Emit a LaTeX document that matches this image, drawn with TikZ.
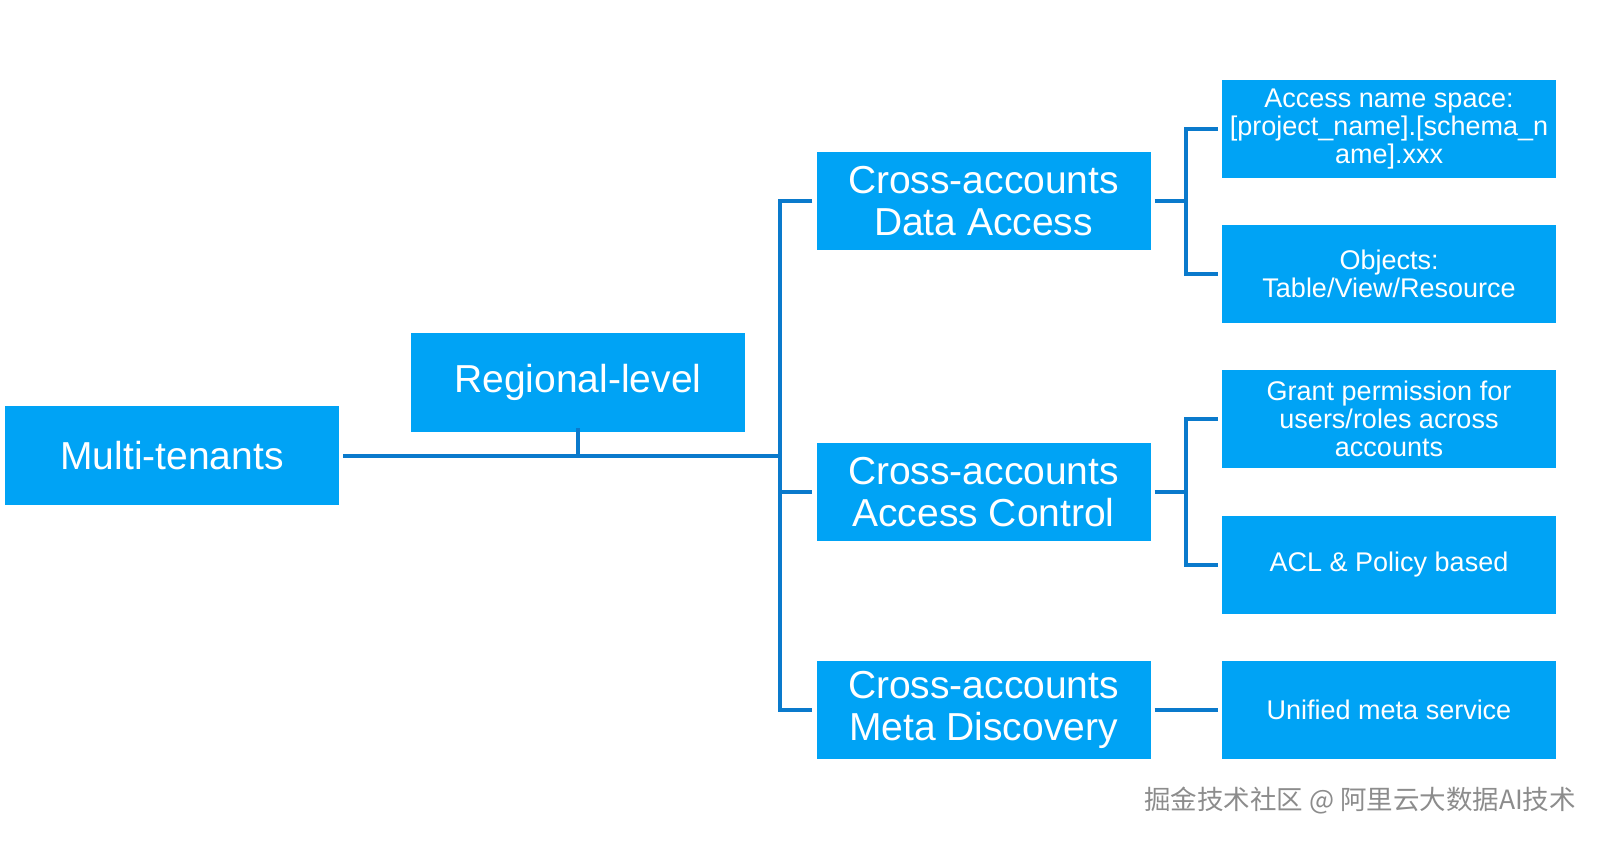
\documentclass[tikz,border=0pt]{standalone}
\usepackage{fontspec}
\setmainfont{Liberation Sans}
\newfontfamily\cjk{Noto Sans CJK SC}
\definecolor{boxfill}{HTML}{00A3F5}
\definecolor{linecol}{HTML}{0A7ACC}
\definecolor{wmgray}{HTML}{8C8C8C}
\begin{document}
\begin{tikzpicture}[x=1pt,y=-1pt,
  bigbox/.style={draw=none,fill=boxfill,text=white,minimum width=334pt,minimum height=99pt,inner sep=0pt,align=center,font=\fontsize{39}{42}\selectfont},
  smallbox/.style={draw=none,fill=boxfill,text=white,minimum width=334pt,minimum height=98pt,inner sep=0pt,align=center,font=\fontsize{27}{28}\selectfont},
  conn/.style={draw=linecol,line width=3.5pt}]
\useasboundingbox (0,0) rectangle (1600,856);
\node[bigbox] (mt) at (172,455.5) {Multi-tenants};
\node[bigbox] (rl) at (578,382.5) {Regional-level};
\node[bigbox,minimum height=98pt] (da) at (983.5,201) {Cross-accounts\\Data Access};
\node[bigbox,minimum height=98pt] (ac) at (983.5,492) {Cross-accounts\\Access Control};
\node[bigbox,minimum height=98pt] (md) at (983.5,710) {Cross-accounts\\Meta Discovery};
\node[smallbox] (r1) at (1389,129) {Access name space:\\{[}project\_name].[schema\_n\\ame].xxx};
\node[smallbox] (r2) at (1389,274) {Objects:\\Table/View/Resource};
\node[smallbox] (r3) at (1389,419) {Grant permission for\\users/roles across\\accounts};
\node[smallbox] (r4) at (1389,565) {ACL \& Policy based};
\node[smallbox] (r5) at (1389,710) {Unified meta service};
\coordinate (trunk) at (780,456);
\coordinate (j1) at (1186,201);
\coordinate (j2) at (1186,492);
\draw[conn] ([xshift=4pt]mt.east |- trunk) -- (trunk);
\draw[conn] ([yshift=4pt]rl.south) -- (rl.south |- trunk);
\draw[conn] ([xshift=-4pt]da.west) -| (trunk) |- ([xshift=-4pt]md.west);
\draw[conn] (trunk |- ac.west) -- ([xshift=-4pt]ac.west);
\draw[conn] ([xshift=4pt]da.east) -- (j1);
\draw[conn] ([xshift=-4pt]r1.west) -| (j1) |- ([xshift=-4pt]r2.west);
\draw[conn] ([xshift=4pt]ac.east) -- (j2);
\draw[conn] ([xshift=-4pt]r3.west) -| (j2) |- ([xshift=-4pt]r4.west);
\draw[conn] ([xshift=4pt]md.east) -- ([xshift=-4pt]r5.west);
\node[text=wmgray,font=\cjk\fontsize{26.5}{27}\selectfont,anchor=center,inner sep=0pt] (wm) at (1360,801) {掘金技术社区 @ 阿里云大数据AI技术};
\end{tikzpicture}
\end{document}
